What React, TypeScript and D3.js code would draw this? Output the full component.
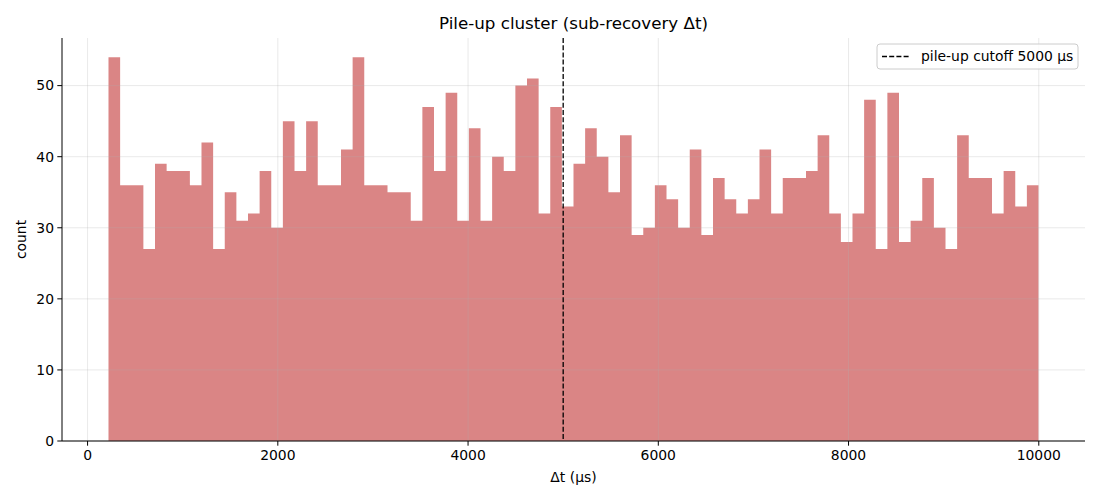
import React, { useEffect, useRef } from 'react';
import * as d3 from 'd3';

// histogram counts, 80 equal bins between binLo and binHi (µs)
const counts = [
  54, 36, 36, 27, 39, 38, 38, 36, 42, 27, 35, 31, 32, 38, 30, 45, 38, 45, 36, 36,
  41, 54, 36, 36, 35, 35, 31, 47, 38, 49, 31, 44, 31, 40, 38, 50, 51, 32, 47, 33,
  39, 44, 40, 35, 43, 29, 30, 36, 34, 30, 41, 29, 37, 34, 32, 34, 41, 32, 37, 37,
  38, 43, 32, 28, 32, 48, 27, 49, 28, 31, 37, 30, 27, 43, 37, 37, 32, 38, 33, 36,
];
const binLo = 220;
const binHi = 9997;
const cutoff = 5000;
const xTicks = [0, 2000, 4000, 6000, 8000, 10000];
const yTicks = [0, 10, 20, 30, 40, 50];

const W = 1100;
const H = 500;
const FONT = 'DejaVu Sans, sans-serif';
const TICK_FS = 13.9;

const App: React.FC = () => {
  const svgRef = useRef<SVGSVGElement | null>(null);

  useEffect(() => {
    const svg = d3.select(svgRef.current);
    svg.selectAll('*').remove();

    const left = 62, right = 1085, top = 38, bottom = 441;
    const span = binHi - binLo;
    const x = d3.scaleLinear().domain([binLo - 0.05 * span, binHi + 0.05 * span]).range([left, right]);
    const y = d3.scaleLinear().domain([0, d3.max(counts)! * 1.05]).range([bottom, top]);
    const step = span / counts.length;

    // bars as one step outline, so adjacent bins have no seams
    const p = d3.path();
    p.moveTo(x(binLo), y(0));
    counts.forEach((c, i) => {
      p.lineTo(x(binLo + i * step), y(c));
      p.lineTo(x(binLo + (i + 1) * step), y(c));
    });
    p.lineTo(x(binHi), y(0));
    p.closePath();
    svg.append('path')
      .attr('d', p.toString())
      .attr('fill', 'indianred')
      .attr('fill-opacity', 0.75);

    // grid on top
    const grid = svg.append('g').attr('stroke', '#b0b0b0').attr('stroke-opacity', 0.35).attr('stroke-width', 0.8);
    xTicks.forEach((t) => {
      grid.append('line').attr('x1', x(t)).attr('x2', x(t)).attr('y1', top).attr('y2', bottom);
    });
    yTicks.forEach((t) => {
      grid.append('line').attr('x1', left).attr('x2', right).attr('y1', y(t)).attr('y2', y(t));
    });

    // cutoff line
    svg.append('line')
      .attr('x1', x(cutoff)).attr('x2', x(cutoff))
      .attr('y1', top).attr('y2', bottom)
      .attr('stroke', 'black')
      .attr('stroke-width', 1.3)
      .attr('stroke-dasharray', '5,2.2');

    // spines
    svg.append('line').attr('x1', left).attr('x2', left).attr('y1', top).attr('y2', bottom).attr('stroke', 'black').attr('stroke-width', 1);
    svg.append('line').attr('x1', left).attr('x2', right).attr('y1', bottom).attr('y2', bottom).attr('stroke', 'black').attr('stroke-width', 1);

    // x ticks
    const xt = svg.append('g');
    xTicks.forEach((t) => {
      xt.append('line').attr('x1', x(t)).attr('x2', x(t)).attr('y1', bottom).attr('y2', bottom + 4.7).attr('stroke', 'black');
      xt.append('text').attr('x', x(t)).attr('y', bottom + 19).attr('text-anchor', 'middle')
        .attr('font-family', FONT).attr('font-size', TICK_FS).text(String(t));
    });

    // y ticks
    const yt = svg.append('g');
    yTicks.forEach((t) => {
      yt.append('line').attr('x1', left - 4.7).attr('x2', left).attr('y1', y(t)).attr('y2', y(t)).attr('stroke', 'black');
      yt.append('text').attr('x', left - 8).attr('y', y(t)).attr('dy', '0.35em').attr('text-anchor', 'end')
        .attr('font-family', FONT).attr('font-size', TICK_FS).text(String(t));
    });

    // labels
    svg.append('text').attr('x', (left + right) / 2).attr('y', 482).attr('text-anchor', 'middle')
      .attr('font-family', FONT).attr('font-size', TICK_FS).text('Δt (µs)');
    svg.append('text').attr('transform', `translate(26,${(top + bottom) / 2}) rotate(-90)`).attr('text-anchor', 'middle')
      .attr('font-family', FONT).attr('font-size', TICK_FS).text('count');
    svg.append('text').attr('x', (left + right) / 2).attr('y', 29).attr('text-anchor', 'middle')
      .attr('font-family', FONT).attr('font-size', 16.7).text('Pile-up cluster (sub-recovery Δt)');

    // legend
    const lg = svg.append('g');
    lg.append('rect').attr('x', 877).attr('y', 44).attr('width', 201).attr('height', 25).attr('rx', 3)
      .attr('fill', 'white').attr('fill-opacity', 0.8).attr('stroke', '#cccccc');
    lg.append('line').attr('x1', 882).attr('x2', 910).attr('y1', 56.5).attr('y2', 56.5)
      .attr('stroke', 'black').attr('stroke-width', 1.3).attr('stroke-dasharray', '5,2.2');
    lg.append('text').attr('x', 921).attr('y', 56.5).attr('dy', '0.35em')
      .attr('font-family', FONT).attr('font-size', TICK_FS).text('pile-up cutoff 5000 µs');
  }, []);

  return (
    <svg ref={svgRef} width={W} height={H} style={{ position: 'absolute', left: 0, top: 0, background: 'white' }} />
  );
};

export default App;
